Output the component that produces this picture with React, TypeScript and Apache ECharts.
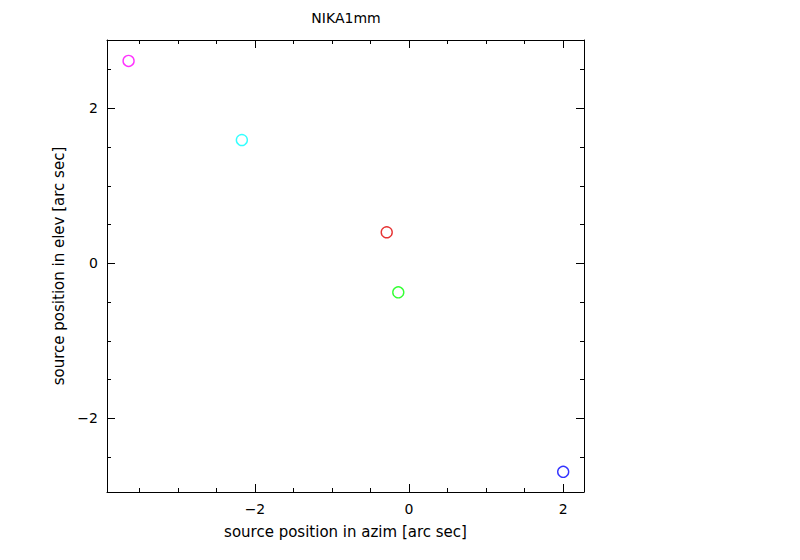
import React, { useEffect, useRef } from "react";
import * as echarts from "echarts";

const title = "NIKA1mm";
const xName = "source position in azim [arc sec]";
const yName = "source position in elev [arc sec]";
const azim = [-3.64, -2.17, -0.29, -0.14, 2.0];
const elev = [2.61, 1.59, 0.4, -0.375, -2.69];
const pointColors = ["#ff00ff", "#00ffff", "#e00000", "#00ff00", "#0000ff"];
const xRange = [-3.92, 2.27];
const yRange = [-2.95, 2.88];
const xMajor = [-2, 0, 2];
const xMinor = [-3.5, -3, -2.5, -1.5, -1, -0.5, 0.5, 1, 1.5];
const yMajor = [-2, 0, 2];
const yMinor = [-2.5, -1.5, -1, -0.5, 0.5, 1, 1.5, 2.5];

const FONT = "DejaVu Sans";

export default function App() {
  const ref = useRef<HTMLDivElement>(null);
  useEffect(() => {
    if (!ref.current) return;
    const chart = echarts.init(ref.current, null, { renderer: "svg" });
    const grid = { left: 107, right: 216, top: 40, bottom: 68, containLabel: false };
    const line = { show: true, lineStyle: { color: "#000", width: 1 } };
    const fmt = (v: number) => (v < 0 ? "\u2212" + Math.abs(v) : String(v));
    const mkX = (gi: number, pos: string, ticks: number[], len: number, labels: boolean, showLine: boolean, name?: string) => ({
      type: "value",
      gridIndex: gi,
      position: pos,
      min: xRange[0],
      max: xRange[1],
      name: name,
      nameLocation: "middle",
      nameGap: 32,
      nameTextStyle: { fontFamily: FONT, fontSize: 15, color: "#000" },
      axisLine: { ...line, show: showLine, onZero: false },
      axisTick: { show: true, inside: true, length: len, customValues: ticks, lineStyle: { color: "#000", width: 1 } },
      axisLabel: { show: labels, customValues: ticks, margin: 10, fontFamily: FONT, fontSize: 14, color: "#000", formatter: fmt },
      splitLine: { show: false },
    });
    const mkY = (gi: number, pos: string, ticks: number[], len: number, labels: boolean, showLine: boolean, name?: string) => ({
      type: "value",
      gridIndex: gi,
      position: pos,
      min: yRange[0],
      max: yRange[1],
      name: name,
      nameLocation: "middle",
      nameGap: 38,
      nameTextStyle: { fontFamily: FONT, fontSize: 15, color: "#000" },
      axisLine: { ...line, show: showLine, onZero: false },
      axisTick: { show: true, inside: true, length: len, customValues: ticks, lineStyle: { color: "#000", width: 1 } },
      axisLabel: { show: labels, customValues: ticks, margin: 9, fontFamily: FONT, fontSize: 14, color: "#000", formatter: fmt },
      splitLine: { show: false },
    });
    chart.setOption({
      animation: false,
      backgroundColor: "#fff",
      grid: [grid, grid],
      xAxis: [
        mkX(0, "bottom", xMajor, 8, true, true, xName),
        mkX(0, "top", xMajor, 8, false, true),
        mkX(1, "bottom", xMinor, 4, false, false),
        mkX(1, "top", xMinor, 4, false, false),
      ],
      yAxis: [
        mkY(0, "left", yMajor, 8, true, true, yName),
        mkY(0, "right", yMajor, 8, false, true),
        mkY(1, "left", yMinor, 4, false, false),
        mkY(1, "right", yMinor, 4, false, false),
      ],
      graphic: [
        {
          type: "text",
          x: 346,
          y: 18,
          style: { text: title, fontFamily: FONT, fontSize: 14, fill: "#000", align: "center", verticalAlign: "middle" },
        },
      ],
      series: [
        {
          type: "scatter",
          xAxisIndex: 0,
          yAxisIndex: 0,
          symbol: "circle",
          symbolSize: 11,
          itemStyle: { color: "transparent", borderWidth: 1.4 },
          data: azim.map((x, i) => ({
            value: [x, elev[i]],
            itemStyle: { color: "transparent", borderColor: pointColors[i], borderWidth: 1.4 },
          })),
        },
      ],
    });
    return () => chart.dispose();
  }, []);
  return <div ref={ref} style={{ position: "fixed", left: 0, top: 0, width: 800, height: 560 }} />;
}
